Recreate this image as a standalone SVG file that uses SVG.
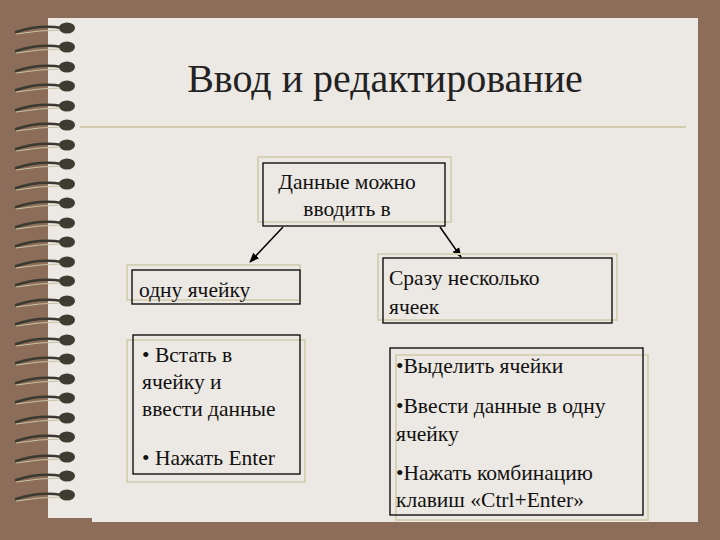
<svg xmlns="http://www.w3.org/2000/svg" width="720" height="540" viewBox="0 0 720 540">
<style>
text{font-family:"Liberation Serif","DejaVu Serif",serif}
.t{fill:#111;font-size:21.5px}
.b{fill:none;stroke:#000;stroke-width:1.3}
.s{fill:none;stroke:#d6d2b8;stroke-width:2}
.w{fill:none;stroke:#3a3a30;stroke-width:2.5;stroke-linecap:round}
</style>
<defs>
<marker id="a" markerWidth="10" markerHeight="10" refX="9" refY="5" orient="auto" markerUnits="userSpaceOnUse"><path d="M0,1 L10,5 L0,9 Z" fill="#000"/></marker>
<g id="ring"><path class="w" d="M16,4 Q40,-4 62,0"/><path d="M16,6 Q40,2 62,2" stroke="#c9c3a0" stroke-width="1" fill="none"/><ellipse cx="67" cy="0" rx="8" ry="5.5" fill="#3c3c30"/></g>
</defs>
<rect width="720" height="540" fill="#8b6d5a"/>
<rect x="48" y="18" width="650" height="500" fill="#ece8e3"/>
<rect x="92" y="518" width="606" height="4" fill="#ece8e3"/>
<g id="spiral">
<use href="#ring" y="28"/><use href="#ring" y="47"/><use href="#ring" y="67"/><use href="#ring" y="86"/><use href="#ring" y="106"/><use href="#ring" y="125"/><use href="#ring" y="145"/><use href="#ring" y="164"/><use href="#ring" y="184"/><use href="#ring" y="203"/><use href="#ring" y="223"/><use href="#ring" y="242"/><use href="#ring" y="262"/><use href="#ring" y="281"/><use href="#ring" y="301"/><use href="#ring" y="320"/><use href="#ring" y="340"/><use href="#ring" y="359"/><use href="#ring" y="379"/><use href="#ring" y="398"/><use href="#ring" y="418"/><use href="#ring" y="437"/><use href="#ring" y="457"/><use href="#ring" y="476"/><use href="#ring" y="495"/>
</g>
<text x="385" y="92" text-anchor="middle" font-size="40" fill="#222" font-family="Liberation Serif, serif">Ввод и редактирование</text>
<line x1="80" y1="127" x2="686" y2="127" stroke="#c9c59c" stroke-width="1.5"/>
<g id="connectors">
<line x1="283" y1="227" x2="250" y2="262" stroke="#000" stroke-width="1.5" marker-end="url(#a)"/>
<line x1="440" y1="227" x2="461" y2="257" stroke="#000" stroke-width="1.5" marker-end="url(#a)"/>
</g>
<g id="root"><rect class="s" x="258" y="157" width="193" height="65"/><rect class="b" x="263" y="163" width="182" height="63"/>
<text class="t" x="347" y="189" text-anchor="middle">Данные можно</text><text class="t" x="347" y="216" text-anchor="middle">вводить в</text></g>
<g id="left"><rect class="s" x="127" y="265" width="173" height="35"/><rect class="b" x="132" y="270" width="168" height="34"/>
<text class="t" x="139" y="297">одну ячейку</text></g>
<g id="right"><rect class="s" x="378" y="254" width="239" height="66"/><rect class="b" x="383" y="258" width="229" height="65"/>
<text class="t" x="389" y="285">Сразу несколько</text><text class="t" x="389" y="314">ячеек</text></g>
<g id="leftsteps"><rect class="s" x="127" y="340" width="178" height="142"/><rect class="b" x="133" y="335" width="167" height="139"/>
<text class="t" x="142" y="362">• Встать в</text><text class="t" x="142" y="389">ячейку и</text><text class="t" x="142" y="416">ввести данные</text><text class="t" x="142" y="465">• Нажать Enter</text></g>
<g id="rightsteps"><rect class="s" x="396" y="355" width="252" height="165"/><rect class="b" x="390" y="348" width="253" height="167"/>
<text class="t" x="396" y="373">•Выделить ячейки</text><text class="t" x="396" y="413">•Ввести данные в одну</text><text class="t" x="396" y="441">ячейку</text><text class="t" x="396" y="480">•Нажать комбинацию</text><text class="t" x="396" y="507">клавиш «Ctrl+Enter»</text></g>
</svg>
